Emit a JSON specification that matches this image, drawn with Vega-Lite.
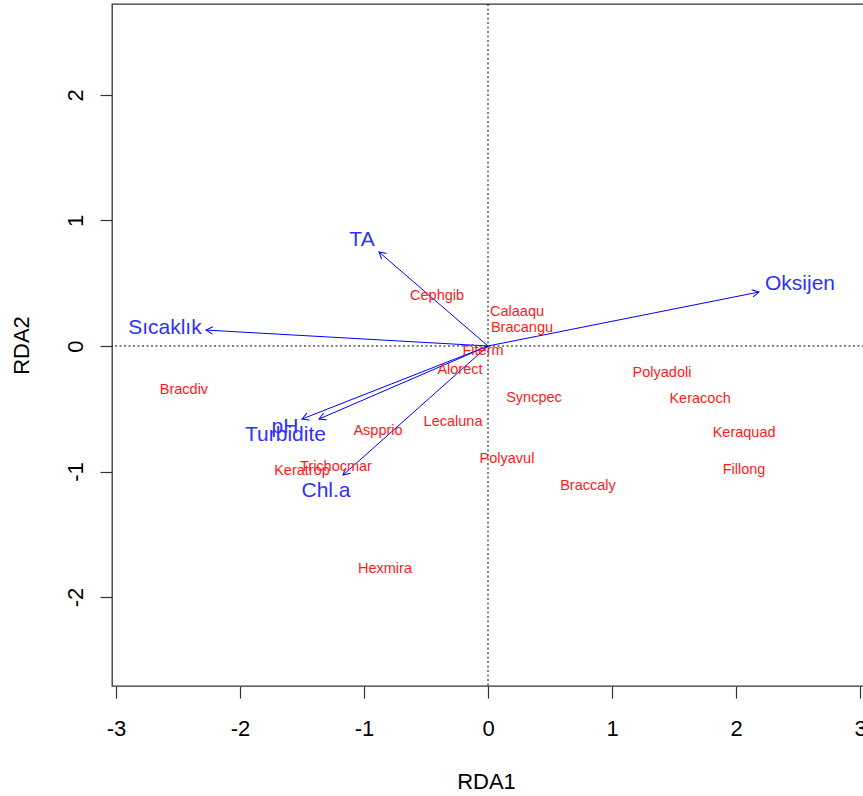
{
  "$schema": "https://vega.github.io/schema/vega-lite/v6.json",
  "width": 752,
  "height": 682,
  "autosize": {"type": "none"},
  "padding": {"left": 112, "top": 4, "right": 0, "bottom": 110},
  "background": "white",
  "config": {
    "view": {"stroke": "#333333", "strokeWidth": 1.3},
    "font": "Liberation Sans"
  },
  "datasets": {
    "species": [
      {"name": "Cephgib", "x": -0.411, "y": 0.398},
      {"name": "Calaaqu", "x": 0.234, "y": 0.271},
      {"name": "Bracangu", "x": 0.274, "y": 0.143},
      {"name": "Fiterm", "x": -0.040, "y": -0.040},
      {"name": "Alorect", "x": -0.226, "y": -0.191},
      {"name": "Bracdiv", "x": -2.452, "y": -0.351},
      {"name": "Syncpec", "x": 0.371, "y": -0.414},
      {"name": "Polyadoli", "x": 1.403, "y": -0.215},
      {"name": "Keracoch", "x": 1.710, "y": -0.422},
      {"name": "Keraquad", "x": 2.065, "y": -0.693},
      {"name": "Fillong", "x": 2.065, "y": -0.988},
      {"name": "Lecaluna", "x": -0.282, "y": -0.606},
      {"name": "Aspprio", "x": -0.887, "y": -0.677},
      {"name": "Polyavul", "x": 0.153, "y": -0.900},
      {"name": "Braccaly", "x": 0.806, "y": -1.116},
      {"name": "Trichocmar", "x": -1.226, "y": -0.964},
      {"name": "Keratrop", "x": -1.500, "y": -0.996},
      {"name": "Hexmira", "x": -0.831, "y": -1.777}
    ],
    "env": [
      {"name": "Oksijen", "x": 2.185, "y": 0.430, "lx": 2.516, "ly": 0.494},
      {"name": "TA", "x": -0.879, "y": 0.749, "lx": -1.016, "ly": 0.845},
      {"name": "Sıcaklık", "x": -2.274, "y": 0.127, "lx": -2.605, "ly": 0.143},
      {"name": "pH", "x": -1.500, "y": -0.582, "lx": -1.637, "ly": -0.645},
      {"name": "Turbidite", "x": -1.363, "y": -0.582, "lx": -1.633, "ly": -0.709},
      {"name": "Chl.a", "x": -1.169, "y": -1.028, "lx": -1.306, "ly": -1.155}
    ]
  },
  "layer": [
    {
      "data": {"values": [{}]},
      "mark": {"type": "rule", "color": "black", "strokeWidth": 1, "strokeDash": [2, 2.5]},
      "encoding": {"x": {"datum": 0, "type": "quantitative"}}
    },
    {
      "data": {"values": [{}]},
      "mark": {"type": "rule", "color": "black", "strokeWidth": 1, "strokeDash": [2, 2.5]},
      "encoding": {"y": {"datum": 0, "type": "quantitative"}}
    },
    {
      "data": {"name": "env"},
      "mark": {"type": "rule", "color": "#0000ff", "strokeWidth": 1},
      "encoding": {
        "x": {
          "field": "x", "type": "quantitative",
          "scale": {"domain": [-3.032, 3.032], "nice": false, "zero": false},
          "axis": {
            "values": [-3, -2, -1, 0, 1, 2, 3],
            "labelExpr": "'' + datum.value",
            "title": "RDA1",
            "grid": false, "domain": false,
            "tickSize": 12, "tickColor": "#333333", "tickWidth": 1.2,
            "labelColor": "black", "labelFontSize": 22, "labelFont": "Liberation Sans",
            "labelBaseline": "alphabetic", "labelPadding": 37,
            "labelFlush": false, "labelOverlap": false,
            "titleFont": "Liberation Sans", "titleFontSize": 22, "titleFontWeight": "normal",
            "titleColor": "black", "titleX": 374, "titleY": 102,
            "titleBaseline": "alphabetic", "titleAlign": "center"
          }
        },
        "y": {
          "field": "y", "type": "quantitative",
          "scale": {"domain": [-2.709, 2.725], "nice": false, "zero": false},
          "axis": {
            "values": [-2, -1, 0, 1, 2],
            "labelExpr": "'' + datum.value",
            "title": "RDA2",
            "grid": false, "domain": false,
            "tickSize": 12, "tickColor": "#333333", "tickWidth": 1.2,
            "labelColor": "black", "labelFontSize": 22, "labelFont": "Liberation Sans",
            "labelAngle": -90, "labelAlign": "center", "labelBaseline": "alphabetic", "labelPadding": 18,
            "labelFlush": false, "labelOverlap": false,
            "titleFont": "Liberation Sans", "titleFontSize": 22, "titleFontWeight": "normal",
            "titleColor": "black", "titleAngle": -90, "titleX": -84, "titleY": 341,
            "titleBaseline": "alphabetic", "titleAlign": "center"
          }
        },
        "x2": {"datum": 0},
        "y2": {"datum": 0}
      }
    },
    {
      "data": {"name": "env"},
      "transform": [
        {"calculate": "(atan2(datum.x * 124, datum.y * 125.5) * 180 / PI + 360) % 360", "as": "ang"}
      ],
      "mark": {
        "type": "point",
        "shape": "M-0.55,1L0,0L0.55,1",
        "filled": false,
        "stroke": "#0000ff",
        "strokeWidth": 1,
        "opacity": 1,
        "size": 180
      },
      "encoding": {
        "x": {"field": "x", "type": "quantitative"},
        "y": {"field": "y", "type": "quantitative"},
        "angle": {"field": "ang", "type": "quantitative", "scale": null}
      }
    },
    {
      "data": {"name": "env"},
      "mark": {"type": "text", "color": "#3030ff", "fontSize": 21, "font": "Liberation Sans", "align": "center", "baseline": "middle"},
      "encoding": {
        "x": {"field": "lx", "type": "quantitative"},
        "y": {"field": "ly", "type": "quantitative"},
        "text": {"field": "name"}
      }
    },
    {
      "data": {"name": "species"},
      "mark": {"type": "text", "color": "#ff1a1a", "fontSize": 14.5, "font": "Liberation Sans", "align": "center", "baseline": "middle"},
      "encoding": {
        "x": {"field": "x", "type": "quantitative"},
        "y": {"field": "y", "type": "quantitative"},
        "text": {"field": "name"}
      }
    }
  ]
}
